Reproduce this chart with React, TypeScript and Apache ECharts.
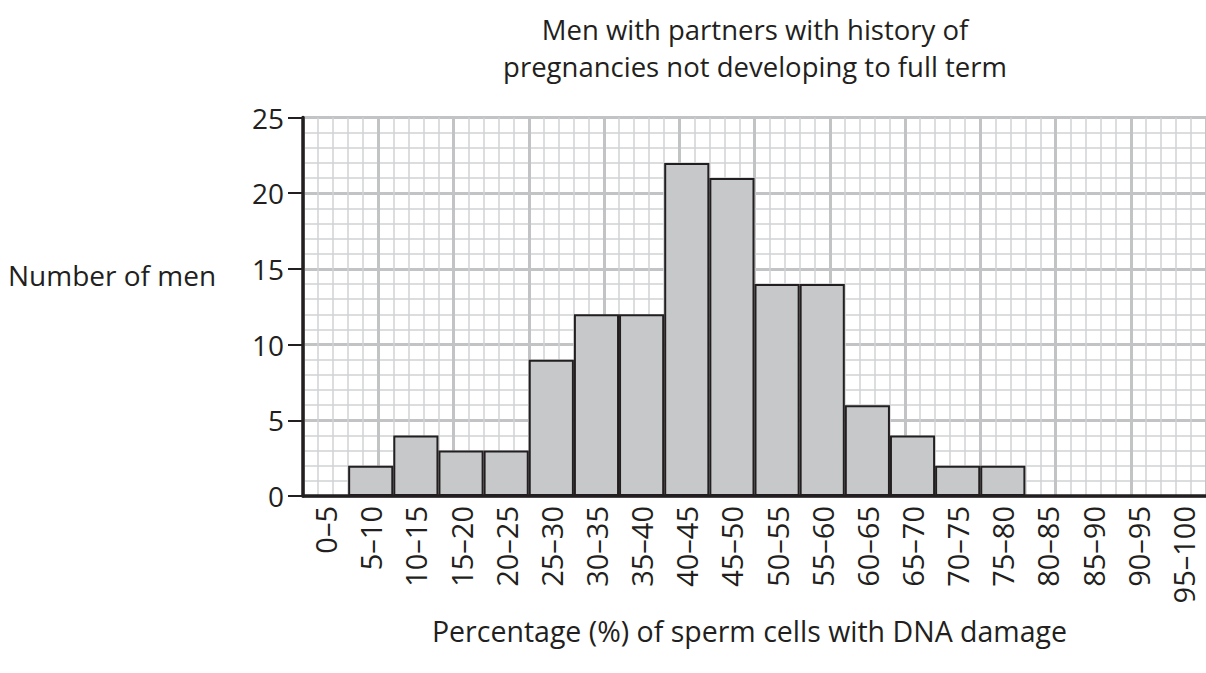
import React, { useEffect, useRef } from "react";
import * as echarts from "echarts";

const categories = [
  "0–5", "5–10", "10–15", "15–20", "20–25", "25–30", "30–35", "35–40", "40–45", "45–50",
  "50–55", "55–60", "60–65", "65–70", "70–75", "75–80", "80–85", "85–90", "90–95", "95–100",
];
const counts = [0, 2, 4, 3, 3, 9, 12, 12, 22, 21, 14, 14, 6, 4, 2, 2, 0, 0, 0, 0];
const yTicks = [0, 5, 10, 15, 20, 25];
const titleLines = ["Men with partners with history of", "pregnancies not developing to full term"];
const yName = "Number of men";
const xName = "Percentage (%) of sperm cells with DNA damage";

const FONT = "Open Sans";
const INK = "#231f20";

export default function App() {
  const ref = useRef<HTMLDivElement>(null);
  useEffect(() => {
    if (!ref.current) return;
    const chart = echarts.init(ref.current, null, { renderer: "svg" });
    const minorLine = { lineStyle: { color: "#d1d2d4", width: 1.5 } };
    const majorLine = { lineStyle: { color: "#c2c3c5", width: 3 } };
    chart.setOption({
      animation: false,
      backgroundColor: "#ffffff",
      textStyle: { fontFamily: FONT, color: INK },
      title: {
        text: titleLines.join("\n"),
        left: 750,
        textAlign: "center",
        top: 6,
        textStyle: { fontFamily: FONT, fontSize: 27.5, fontWeight: "normal", color: INK, lineHeight: 37 },
      },
      graphic: [
        {
          type: "text",
          left: 8,
          top: 261,
          style: { text: yName, font: `28px '${FONT}'`, fill: INK },
        },
      ],
      grid: { left: 303, top: 117.5, width: 908.5, height: 378.5, containLabel: false },
      xAxis: [
        {
          type: "category",
          data: categories,
          z: 5,
          axisLine: { show: true, lineStyle: { color: INK, width: 3.5 } },
          axisTick: { show: false },
          splitLine: { show: false },
          axisLabel: {
            rotate: 90,
            interval: 0,
            margin: 10,
            fontSize: 29,
            fontFamily: FONT,
            color: INK,
          },
          name: xName,
          nameLocation: "middle",
          nameGap: 120,
          nameTextStyle: { fontSize: 28.5, fontFamily: FONT, color: INK, padding: [0, 0, 0, -10] },
        },
        {
          type: "value",
          min: 0,
          max: 60,
          interval: 5,
          z: 0,
          axisLine: { show: false },
          axisTick: { show: false },
          axisLabel: { show: false },
          splitLine: { show: true, ...majorLine },
          minorTick: { show: false, splitNumber: 5 },
          minorSplitLine: { show: true, ...minorLine },
        },
      ],
      yAxis: [
        {
          type: "value",
          min: 0,
          max: 25,
          interval: 5,
          z: 5,
          axisLine: { show: true, lineStyle: { color: INK, width: 3.5 } },
          axisTick: { show: true, length: 15, inside: false, lineStyle: { color: INK, width: 2 } },
          splitLine: { show: false },
          axisLabel: {
            margin: 19,
            fontSize: 28,
            fontFamily: FONT,
            color: INK,
            formatter: (v: number) => (yTicks.includes(v) ? String(v) : ""),
          },
        },
        {
          type: "value",
          min: 0,
          max: 25,
          interval: 5,
          z: 0,
          axisLine: { show: false },
          axisTick: { show: false },
          axisLabel: { show: false },
          splitLine: { show: true, ...majorLine },
          minorTick: { show: false, splitNumber: 5 },
          minorSplitLine: { show: true, ...minorLine },
        },
      ],
      series: [
        {
          type: "bar",
          xAxisIndex: 0,
          yAxisIndex: 0,
          data: counts,
          barCategoryGap: 0,
          barGap: 0,
          z: 3,
          itemStyle: { color: "#c7c8ca", borderColor: INK, borderWidth: 2 },
        },
      ],
    });
    return () => chart.dispose();
  }, []);
  return (
    <div
      ref={ref}
      style={{ position: "absolute", left: 0, top: 0, width: 1206, height: 673 }}
    />
  );
}
